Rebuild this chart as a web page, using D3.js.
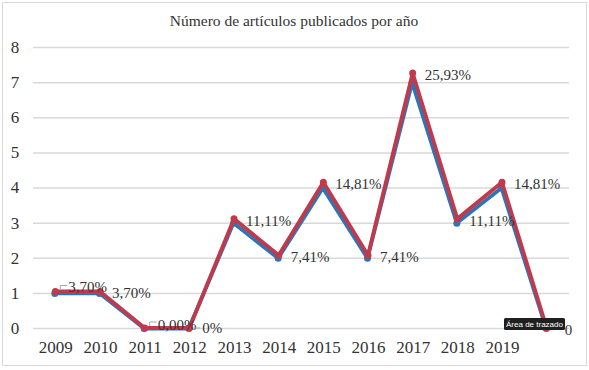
<!DOCTYPE html>
<html>
<head>
<meta charset="utf-8">
<script src="https://cdn.jsdelivr.net/npm/d3@7"></script>
<style>
  body { margin: 0; background: #fff; }
</style>
</head>
<body>
<div id="chart"></div>
<script>
// data
const years = ['2009', '2010', '2011', '2012', '2013', '2014', '2015', '2016', '2017', '2018', '2019', ''];
const articles = [1, 1, 0, 0, 3, 2, 4, 2, 7, 3, 4, 0];
const percentSeries = [1.04, 1.04, 0, 0, 3.11, 2.07, 4.15, 2.07, 7.26, 3.11, 4.15, 0];
const percentLabels = ['3,70%', '3,70%', '0,00%', '0%', '11,11%', '7,41%', '14,81%', '7,41%', '25,93%', '11,11%', '14,81%', '0'];
const yTicks = [0, 1, 2, 3, 4, 5, 6, 7, 8];

// chart dimensions
const svgWidth = 589;
const svgHeight = 370;
const marginTop = 47;
const marginRight = 20;
const marginBottom = 42;
const marginLeft = 33;
const serif = "'Liberation Serif', 'Times New Roman', serif";
const textColour = '#333333';

// labels that were dragged by hand in the original (with leader lines)
const labelShift = { 0: [13, 1], 2: [13, 2], 3: [13, 5], 11: [18, 7] };

const svg = d3
  .select('#chart')
  .append('svg')
  .attr('width', svgWidth)
  .attr('height', svgHeight);

// outer frame
svg
  .append('rect')
  .attr('x', 2.5)
  .attr('y', 2.5)
  .attr('width', 584)
  .attr('height', 363)
  .attr('fill', 'white')
  .attr('stroke', '#d9d9d9');

svg
  .append('text')
  .attr('x', 294)
  .attr('y', 26)
  .attr('text-anchor', 'middle')
  .style('font-family', serif)
  .style('font-size', '15.5px')
  .style('fill', textColour)
  .text('Número de artículos publicados por año');

const xScale = d3
  .scalePoint()
  .domain(d3.range(years.length))
  .range([marginLeft, svgWidth - marginRight])
  .padding(0.5);

const yScale = d3
  .scaleLinear()
  .domain([0, 8])
  .range([svgHeight - marginBottom, marginTop]);

// gridlines + y labels
svg
  .append('g')
  .attr('transform', `translate(${marginLeft},0)`)
  .call(d3.axisLeft(yScale).tickValues(yTicks).tickSize(-(svgWidth - marginRight - marginLeft)).tickPadding(12))
  .call((g) => g.select('.domain').remove())
  .call((g) => g.selectAll('.tick line').attr('stroke', '#d9d9d9').attr('stroke-width', 1.5))
  .call((g) =>
    g
      .selectAll('.tick text')
      .attr('text-anchor', 'middle')
      .attr('x', -18)
      .style('font-family', serif)
      .style('font-size', '17px')
      .style('fill', textColour)
  );

// x labels
svg
  .append('g')
  .attr('transform', `translate(0,${svgHeight - marginBottom})`)
  .call(d3.axisBottom(xScale).tickFormat((i) => years[i]).tickSize(0).tickPadding(13))
  .call((g) => g.select('.domain').remove())
  .call((g) =>
    g
      .selectAll('.tick text')
      .style('font-family', serif)
      .style('font-size', '17px')
      .style('fill', textColour)
  );

const idx = d3.range(years.length);

function drawSeries(values, colour, dx, dy) {
  const line = d3
    .line()
    .x((i) => xScale(i) + dx)
    .y((i) => yScale(values[i]) + dy);
  svg
    .append('path')
    .datum(idx)
    .attr('fill', 'none')
    .attr('stroke', colour)
    .attr('stroke-width', 3.8)
    .attr('stroke-linejoin', 'round')
    .attr('d', line);
  svg
    .append('g')
    .selectAll('circle')
    .data(idx)
    .join('circle')
    .attr('cx', (i) => xScale(i) + dx)
    .attr('cy', (i) => yScale(values[i]) + dy)
    .attr('r', 3.5)
    .attr('fill', colour);
}

drawSeries(articles, '#2e75b6', -0.5, 0.5);
drawSeries(percentSeries, '#c2394b', 0, 0);

// data labels
svg
  .append('g')
  .selectAll('text')
  .data(idx)
  .join('text')
  .attr('x', (i) => xScale(i) + (labelShift[i] ? labelShift[i][0] : 12))
  .attr('y', (i) => yScale(percentSeries[i]) + (labelShift[i] ? labelShift[i][1] : 7))
  .style('font-family', serif)
  .style('font-size', '15px')
  .style('fill', textColour)
  .text((i) => percentLabels[i]);

// leader lines for moved labels
[0, 2].forEach((i) => {
  const x = xScale(i);
  const y = yScale(percentSeries[i]);
  svg
    .append('path')
    .attr('d', `M${x + 5},${y - 2} V${y - 6} H${x + 12}`)
    .attr('fill', 'none')
    .attr('stroke', '#a6a6a6');
});
svg
  .append('line')
  .attr('x1', xScale(3) + 4)
  .attr('x2', xScale(3) + 11)
  .attr('y1', yScale(0))
  .attr('y2', yScale(0))
  .attr('stroke', '#a6a6a6');

// hover tooltip over the plot area
const tip = svg.append('g').attr('transform', 'translate(504,318)');
tip.append('rect').attr('width', 61).attr('height', 12).attr('rx', 1.5).attr('fill', '#1f1f1f');
tip
  .append('text')
  .attr('x', 30.5)
  .attr('y', 9)
  .attr('text-anchor', 'middle')
  .style('font-size', '8px')
  .style('font-family', 'Arial, "Liberation Sans", sans-serif')
  .style('fill', 'white')
  .text('Área de trazado');
</script>
</body>
</html>
